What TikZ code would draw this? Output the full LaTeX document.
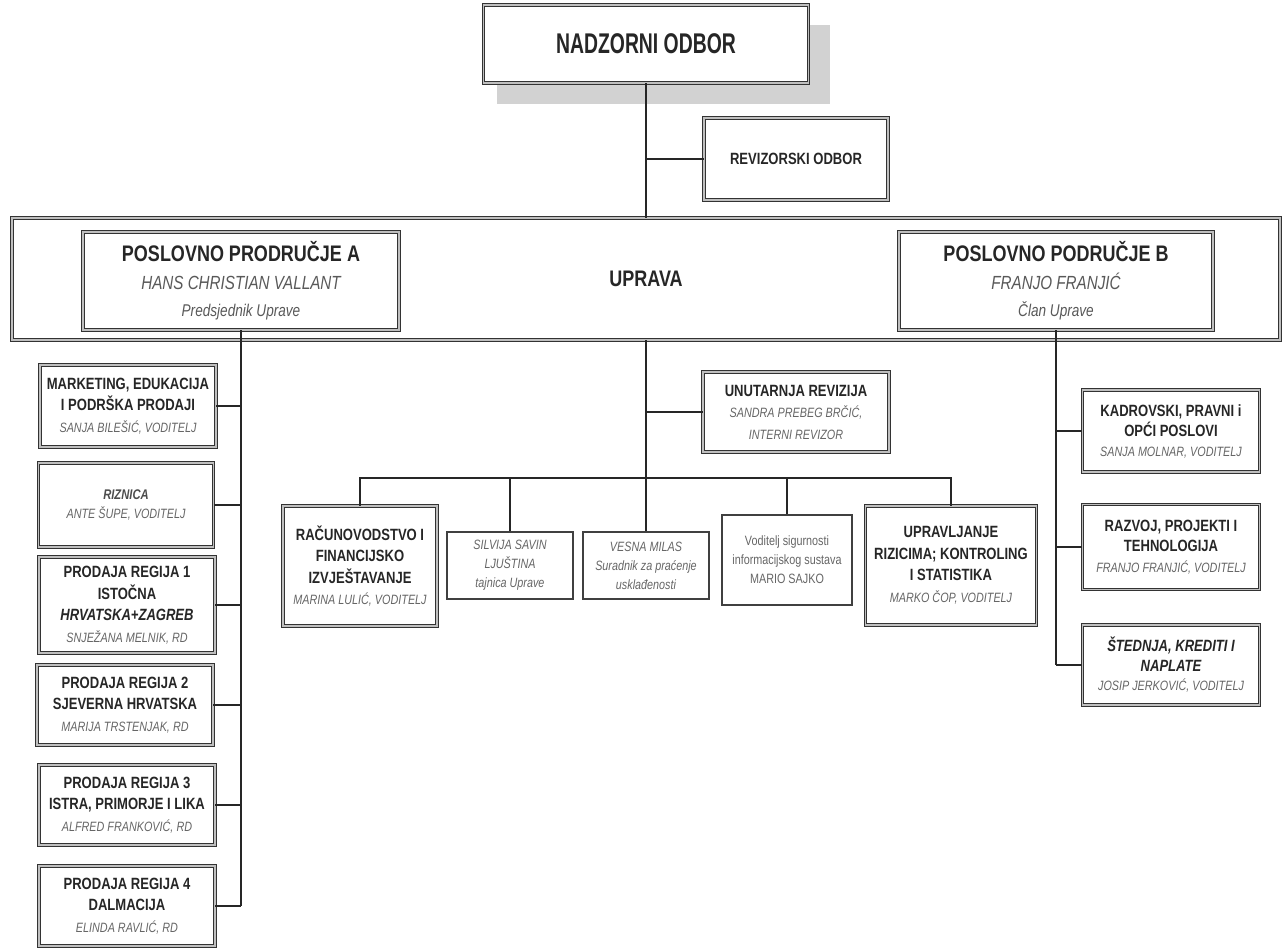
\documentclass[tikz,border=0pt]{standalone}
\usepackage{fontspec}
\setmainfont[FakeStretch=0.8]{Liberation Sans}
\newfontfamily\narrowfam[FakeStretch=0.68]{Liberation Sans}
\newcommand\bt{\fontsize{16.3}{21.5}\selectfont\bfseries\color{black!85}}
\newcommand\bti{\fontsize{16.3}{21.5}\selectfont\bfseries\itshape\color{black!85}}
\newcommand\nmi{\fontsize{13.5}{21.5}\selectfont\itshape\color{black!60}}
\newcommand\sm{\fontsize{13.5}{19}\selectfont\color{black!60}}
\newcommand\smi{\fontsize{13.5}{19}\selectfont\itshape\color{black!60}}
\begin{document}
\begin{tikzpicture}[x=1pt,y=-1pt,
  dbox/.style={draw=black!80, line width=0.9pt, double=gray!50, double distance=1.6pt, fill=white, inner sep=0pt, align=center, font=\fontsize{16.3}{21.5}\selectfont},
  sbox/.style={draw=black!75, line width=1.1pt, fill=white, inner sep=0pt, align=center, font=\fontsize{13.5}{19}\selectfont},
  conn/.style={draw=black!85, line width=1.2pt},
]
\useasboundingbox (0,0) rectangle (1284,949);
% shadow of top box
\fill[gray!35] (497,25) rectangle (830,104);

\node[dbox, minimum width=325pt, minimum height=78pt] (nad) at (646,44) {{\narrowfam\fontsize{28.5}{32}\selectfont\bfseries\color{black!85} NADZORNI ODBOR}};
\node[dbox, minimum width=184pt, minimum height=82pt] (rev) at (796,159) {{\bt REVIZORSKI ODBOR}};

\node[dbox, minimum width=1268pt, minimum height=122pt, font=\fontsize{22.5}{26}\selectfont] (upr) at (646,279) {{\fontsize{22.5}{26}\selectfont\bfseries\color{black!85} UPRAVA}};
\node[dbox, minimum width=316pt, minimum height=98pt, font=\fontsize{20}{27.5}\selectfont] (pa) at (241,281)
 {{\fontsize{22.5}{27}\selectfont\bfseries\color{black!85} POSLOVNO PRODRUČJE A}\\
  {\fontsize{19}{27}\selectfont\itshape\color{black!65} HANS CHRISTIAN VALLANT}\\
  {\fontsize{17}{27}\selectfont\itshape\color{black!65} Predsjednik Uprave}};
\node[dbox, minimum width=314pt, minimum height=98pt, font=\fontsize{20}{27.5}\selectfont] (pb) at (1056,281)
 {{\fontsize{22.5}{27}\selectfont\bfseries\color{black!85} POSLOVNO PODRUČJE B}\\
  {\fontsize{19}{27}\selectfont\itshape\color{black!65} FRANJO FRANJIĆ}\\
  {\fontsize{17}{27}\selectfont\itshape\color{black!65} Član Uprave}};

% left column
\node[dbox, minimum width=176pt, minimum height=82pt] (mkt) at (128,406)
 {{\bt MARKETING, EDUKACIJA}\\{\bt I PODRŠKA PRODAJI}\\{\nmi SANJA BILEŠIĆ, VODITELJ}};
\node[dbox, minimum width=175pt, minimum height=84pt, font=\fontsize{15}{19}\selectfont] (riz) at (126,505)
 {{\fontsize{14}{19}\selectfont\bfseries\itshape\color{black!70} RIZNICA}\\{\nmi ANTE ŠUPE, VODITELJ}};
\node[dbox, minimum width=176pt, minimum height=96pt] (r1) at (127,605)
 {{\bt PRODAJA REGIJA 1}\\{\bt ISTOČNA}\\{\bti HRVATSKA+ZAGREB}\\{\nmi SNJEŽANA MELNIK, RD}};
\node[dbox, minimum width=176pt, minimum height=80pt] (r2) at (125,705)
 {{\bt PRODAJA REGIJA 2}\\{\bt SJEVERNA HRVATSKA}\\{\nmi MARIJA TRSTENJAK, RD}};
\node[dbox, minimum width=176pt, minimum height=80pt] (r3) at (127,805)
 {{\bt PRODAJA REGIJA 3}\\{\bt ISTRA, PRIMORJE I LIKA}\\{\nmi ALFRED FRANKOVIĆ, RD}};
\node[dbox, minimum width=176pt, minimum height=80pt] (r4) at (127,906)
 {{\bt PRODAJA REGIJA 4}\\{\bt DALMACIJA}\\{\nmi ELINDA RAVLIĆ, RD}};

% right column
\node[dbox, minimum width=177pt, minimum height=82pt, font=\fontsize{16}{20}\selectfont] (kad) at (1171,431)
 {{\bt KADROVSKI, PRAVNI i}\\{\bt OPĆI POSLOVI}\\{\nmi SANJA MOLNAR, VODITELJ}};
\node[dbox, minimum width=177pt, minimum height=85pt, font=\fontsize{16}{20.5}\selectfont] (raz) at (1171,547)
 {{\bt RAZVOJ, PROJEKTI I}\\{\bt TEHNOLOGIJA}\\{\nmi FRANJO FRANJIĆ, VODITELJ}};
\node[dbox, minimum width=177pt, minimum height=80pt, font=\fontsize{16}{19.5}\selectfont] (sted) at (1171,665)
 {{\bti ŠTEDNJA, KREDITI I}\\{\bti NAPLATE}\\{\nmi JOSIP JERKOVIĆ, VODITELJ}};

% centre
\node[dbox, minimum width=186pt, minimum height=80pt] (unu) at (796,412)
 {{\bt UNUTARNJA REVIZIJA}\\{\nmi SANDRA PREBEG BRČIĆ,}\\{\nmi INTERNI REVIZOR}};
\node[dbox, minimum width=154pt, minimum height=120pt] (rac) at (360,566)
 {{\bt RAČUNOVODSTVO I}\\{\bt FINANCIJSKO}\\{\bt IZVJEŠTAVANJE}\\{\nmi MARINA LULIĆ, VODITELJ}};
\node[sbox, minimum width=126pt, minimum height=67pt] (sil) at (510,565.5)
 {{\smi SILVIJA SAVIN}\\{\smi LJUŠTINA}\\{\smi tajnica Uprave}};
\node[sbox, minimum width=126pt, minimum height=67pt] (ves) at (646,565.5)
 {{\smi VESNA MILAS}\\{\smi Suradnik za praćenje}\\{\smi usklađenosti}};
\node[sbox, minimum width=130pt, minimum height=90pt] (vod) at (787,560)
 {{\sm Voditelj sigurnosti}\\{\sm informacijskog sustava}\\{\sm MARIO SAJKO}};
\node[dbox, minimum width=171pt, minimum height=119pt] (ukr) at (951,565.5)
 {{\bt UPRAVLJANJE}\\{\bt RIZICIMA; KONTROLING}\\{\bt I STATISTIKA}\\{\nmi MARKO ČOP, VODITELJ}};

\coordinate (bus) at (646,478);

% connectors
\draw[conn] (nad.south) -- (nad.south |- upr.north);
\draw[conn] (rev.west) -- (rev.west -| nad.south);
\draw[conn] (upr.south -| ves.north) -- (ves.north);
\draw[conn] (unu.west) -- (unu.west -| ves.north);
\draw[conn] (rac.north) -- (rac.north |- bus) -- (ukr.north |- bus) -- (ukr.north);
\draw[conn] (sil.north) -- (sil.north |- bus);
\draw[conn] (vod.north) -- (vod.north |- bus);

\draw[conn] (pa.south) -- (pa.south |- r4.east);
\foreach \n in {mkt,riz,r1,r2,r3} \draw[conn] (\n.east) -- (\n.east -| pa.south);
\draw[conn, line width=2pt] (r4.east) -- (r4.east -| pa.south);
\draw[conn] (pb.south) -- (pb.south |- sted.west);
\foreach \n in {kad,raz,sted} \draw[conn] (\n.west) -- (\n.west -| pb.south);
\end{tikzpicture}
\end{document}
